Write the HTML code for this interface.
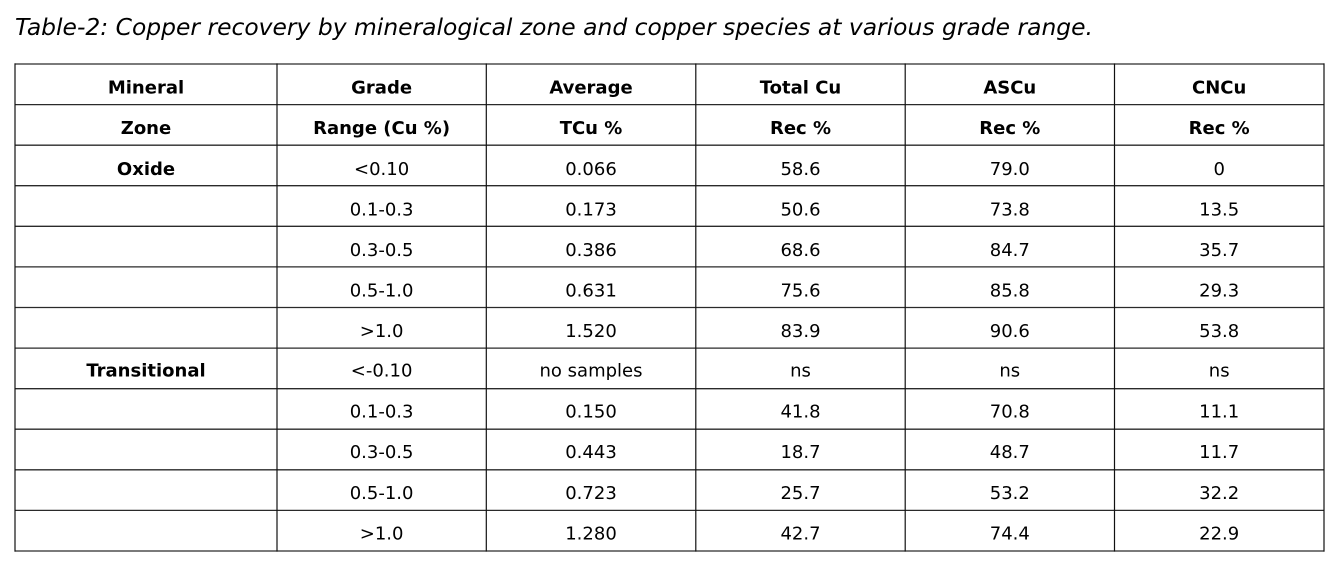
<!DOCTYPE html>
<html>
<head>
<meta charset="utf-8">
<style>
  html,body{margin:0;padding:0;background:#fff;}
  body{width:1342px;height:564px;overflow:hidden;}
  svg{display:block;}
  text{font-family:"DejaVu Sans","Liberation Sans",sans-serif;fill:#000;}
  .t{font-size:18px;text-anchor:middle;}
  .b{font-weight:bold;}
  .title{font-size:23px;font-style:italic;}
</style>
</head>
<body>
<svg width="1342" height="564" viewBox="0 0 1342 564" xmlns="http://www.w3.org/2000/svg">
  <rect x="0" y="0" width="1342" height="564" fill="#fff"/>
  <text class="title" x="15" y="35" textLength="1078" lengthAdjust="spacingAndGlyphs">Table-2: Copper recovery by mineralogical zone and copper species at various grade range.</text>

  <g stroke="#2a2a2a" stroke-width="1.3">
    <line x1="14.5" y1="64" x2="1324.5" y2="64"/>
    <line x1="14.5" y1="104.6" x2="1324.5" y2="104.6"/>
    <line x1="14.5" y1="145.2" x2="1324.5" y2="145.2"/>
    <line x1="14.5" y1="185.7" x2="1324.5" y2="185.7"/>
    <line x1="14.5" y1="226.3" x2="1324.5" y2="226.3"/>
    <line x1="14.5" y1="266.9" x2="1324.5" y2="266.9"/>
    <line x1="14.5" y1="307.5" x2="1324.5" y2="307.5"/>
    <line x1="14.5" y1="348.1" x2="1324.5" y2="348.1"/>
    <line x1="14.5" y1="388.7" x2="1324.5" y2="388.7"/>
    <line x1="14.5" y1="429.2" x2="1324.5" y2="429.2"/>
    <line x1="14.5" y1="469.8" x2="1324.5" y2="469.8"/>
    <line x1="14.5" y1="510.4" x2="1324.5" y2="510.4"/>
    <line x1="14.5" y1="551" x2="1324.5" y2="551"/>
  </g>
  <g stroke="#111" stroke-width="1.2">
    <line x1="15" y1="63.4" x2="15" y2="551.6"/>
    <line x1="277" y1="63.4" x2="277" y2="551.6"/>
    <line x1="486.3" y1="63.4" x2="486.3" y2="551.6"/>
    <line x1="695.8" y1="63.4" x2="695.8" y2="551.6"/>
    <line x1="905.2" y1="63.4" x2="905.2" y2="551.6"/>
    <line x1="1114.5" y1="63.4" x2="1114.5" y2="551.6"/>
    <line x1="1324" y1="63.4" x2="1324" y2="551.6"/>
  </g>

  <g class="t b">
    <text x="146" y="93.6">Mineral</text>
    <text x="381.6" y="93.6">Grade</text>
    <text x="591" y="93.6">Average</text>
    <text x="800.5" y="93.6">Total Cu</text>
    <text x="1009.8" y="93.6">ASCu</text>
    <text x="1219.2" y="93.6">CNCu</text>
  </g>
  <g class="t b">
    <text x="146" y="134.2">Zone</text>
    <text x="381.6" y="134.2">Range (Cu %)</text>
    <text x="591" y="134.2">TCu %</text>
    <text x="800.5" y="134.2">Rec %</text>
    <text x="1009.8" y="134.2">Rec %</text>
    <text x="1219.2" y="134.2">Rec %</text>
  </g>
  <g class="t">
    <text class="b" x="146" y="174.8">Oxide</text>
    <text x="381.6" y="174.8">&lt;0.10</text>
    <text x="591" y="174.8">0.066</text>
    <text x="800.5" y="174.8">58.6</text>
    <text x="1009.8" y="174.8">79.0</text>
    <text x="1219.2" y="174.8">0</text>
  </g>
  <g class="t">
    <text x="381.6" y="215.3">0.1-0.3</text>
    <text x="591" y="215.3">0.173</text>
    <text x="800.5" y="215.3">50.6</text>
    <text x="1009.8" y="215.3">73.8</text>
    <text x="1219.2" y="215.3">13.5</text>
  </g>
  <g class="t">
    <text x="381.6" y="255.9">0.3-0.5</text>
    <text x="591" y="255.9">0.386</text>
    <text x="800.5" y="255.9">68.6</text>
    <text x="1009.8" y="255.9">84.7</text>
    <text x="1219.2" y="255.9">35.7</text>
  </g>
  <g class="t">
    <text x="381.6" y="296.5">0.5-1.0</text>
    <text x="591" y="296.5">0.631</text>
    <text x="800.5" y="296.5">75.6</text>
    <text x="1009.8" y="296.5">85.8</text>
    <text x="1219.2" y="296.5">29.3</text>
  </g>
  <g class="t">
    <text x="381.6" y="337.1">&gt;1.0</text>
    <text x="591" y="337.1">1.520</text>
    <text x="800.5" y="337.1">83.9</text>
    <text x="1009.8" y="337.1">90.6</text>
    <text x="1219.2" y="337.1">53.8</text>
  </g>
  <g class="t">
    <text class="b" x="146" y="376.7">Transitional</text>
    <text x="381.6" y="376.7">&lt;-0.10</text>
    <text x="591" y="376.7">no samples</text>
    <text x="800.5" y="376.7">ns</text>
    <text x="1009.8" y="376.7">ns</text>
    <text x="1219.2" y="376.7">ns</text>
  </g>
  <g class="t">
    <text x="381.6" y="417.6">0.1-0.3</text>
    <text x="591" y="417.6">0.150</text>
    <text x="800.5" y="417.6">41.8</text>
    <text x="1009.8" y="417.6">70.8</text>
    <text x="1219.2" y="417.6">11.1</text>
  </g>
  <g class="t">
    <text x="381.6" y="458.2">0.3-0.5</text>
    <text x="591" y="458.2">0.443</text>
    <text x="800.5" y="458.2">18.7</text>
    <text x="1009.8" y="458.2">48.7</text>
    <text x="1219.2" y="458.2">11.7</text>
  </g>
  <g class="t">
    <text x="381.6" y="498.8">0.5-1.0</text>
    <text x="591" y="498.8">0.723</text>
    <text x="800.5" y="498.8">25.7</text>
    <text x="1009.8" y="498.8">53.2</text>
    <text x="1219.2" y="498.8">32.2</text>
  </g>
  <g class="t">
    <text x="381.6" y="539.4">&gt;1.0</text>
    <text x="591" y="539.4">1.280</text>
    <text x="800.5" y="539.4">42.7</text>
    <text x="1009.8" y="539.4">74.4</text>
    <text x="1219.2" y="539.4">22.9</text>
  </g>
</svg>
</body>
</html>
